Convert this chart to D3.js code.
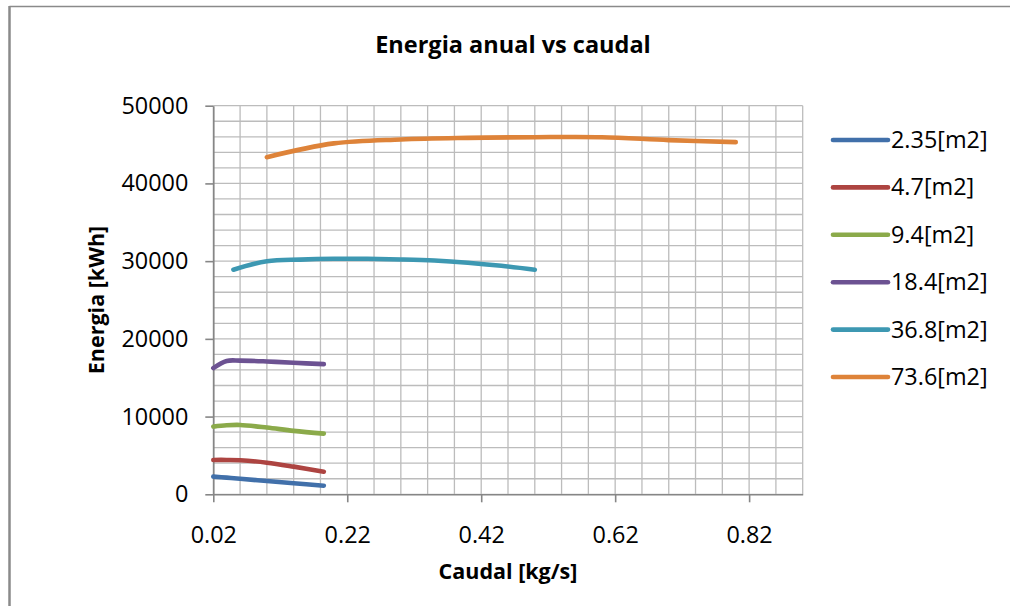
<!DOCTYPE html>
<html>
<head>
<meta charset="utf-8">
<script src="https://cdn.jsdelivr.net/npm/d3@7"></script>
<style>
  html, body { margin: 0; padding: 0; background: #ffffff; }
  svg { display: block; }
  text { font-family: "Open Sans", "Noto Sans", sans-serif; fill: #000; }
</style>
</head>
<body>
<svg id="chart" width="1010" height="606"></svg>
<script>
// Series names and colours
const seriesNames = ["2.35[m2]", "4.7[m2]", "9.4[m2]", "18.4[m2]", "36.8[m2]", "73.6[m2]"];
const seriesColors = ["#4170AA", "#AD4441", "#8BAA4A", "#6C5292", "#3D98B2", "#DE8339"];

// Flow rates (kg/s) for the four smaller collector areas
const caudalSmall = [0.02, 0.04, 0.06, 0.10, 0.14, 0.185];
const energia235 = [2270, 2140, 2000, 1710, 1420, 1110];
const energia47  = [4420, 4420, 4380, 4070, 3560, 2910];
const energia94  = [8710, 8880, 8920, 8590, 8160, 7810];
const energia184 = [16240, 17150, 17200, 17090, 16920, 16750];

// 36.8 m2 collector
const caudal368  = [0.05, 0.10, 0.15, 0.20, 0.25, 0.30, 0.35, 0.40, 0.45, 0.50];
const energia368 = [28900, 29980, 30200, 30300, 30300, 30220, 30080, 29800, 29400, 28900];

// 73.6 m2 collector
const caudal736  = [0.10, 0.20, 0.30, 0.40, 0.50, 0.60, 0.70, 0.80];
const energia736 = [43380, 45150, 45660, 45860, 45950, 45950, 45570, 45310];

// Axis ticks
const xTickValues = [0.02, 0.22, 0.42, 0.62, 0.82];
const yTickValues = [0, 10000, 20000, 30000, 40000, 50000];
const xDomain = [0.02, 0.90];
const yDomain = [0, 50000];
const xMinorStep = 0.04;
const yMinorStep = 2000;

const seriesX = [caudalSmall, caudalSmall, caudalSmall, caudalSmall, caudal368, caudal736];
const seriesY = [energia235, energia47, energia94, energia184, energia368, energia736];

const series = seriesNames.map((name, i) => ({
  name,
  color: seriesColors[i],
  points: seriesX[i].map((x, j) => ({ x, y: seriesY[i][j] }))
}));

const svg = d3.select("#chart");
const plot = { left: 213.3, right: 802.7, top: 105.7, bottom: 494.3 };

const x = d3.scaleLinear().domain(xDomain).range([plot.left, plot.right]);
const y = d3.scaleLinear().domain(yDomain).range([plot.bottom, plot.top]);

// Chart frame (only the top and left edges fall inside the view)
svg.append("line").attr("x1", 9.5).attr("x2", 1010).attr("y1", 6.5).attr("y2", 6.5)
  .attr("stroke", "#8a8a8a").attr("stroke-width", 1.3);
svg.append("line").attr("x1", 9.5).attr("x2", 9.5).attr("y1", 6).attr("y2", 606)
  .attr("stroke", "#8a8a8a").attr("stroke-width", 2.5);

// Grid
const xGrid = d3.range(0, Math.round((xDomain[1] - xDomain[0]) / xMinorStep) + 1)
  .map(i => xDomain[0] + i * xMinorStep);
const yGrid = d3.range(0, Math.round((yDomain[1] - yDomain[0]) / yMinorStep) + 1)
  .map(i => yDomain[0] + i * yMinorStep);

const grid = svg.append("g").attr("stroke", "#bcbcbc").attr("stroke-width", 1.3);
grid.selectAll("line.h").data(yGrid).join("line").attr("class", "h")
  .attr("x1", plot.left).attr("x2", plot.right)
  .attr("y1", d => y(d)).attr("y2", d => y(d));
grid.selectAll("line.v").data(xGrid).join("line").attr("class", "v")
  .attr("y1", plot.top).attr("y2", plot.bottom)
  .attr("x1", d => x(d)).attr("x2", d => x(d));

// Axes
const xAxis = d3.axisBottom(x).tickValues(xTickValues).tickFormat(d3.format(".2f"))
  .tickSizeInner(8).tickSizeOuter(0).tickPadding(24);
const yAxis = d3.axisLeft(y).tickValues(yTickValues).tickFormat(d3.format("d"))
  .tickSizeInner(8).tickSizeOuter(0).tickPadding(17);

const gx = svg.append("g").attr("transform", `translate(0,${plot.bottom})`).call(xAxis);
const gy = svg.append("g").attr("transform", `translate(${plot.left},0)`).call(yAxis);
[gx, gy].forEach(g => {
  g.select(".domain").attr("stroke", "#868686").attr("stroke-width", 1.6);
  g.selectAll(".tick line").attr("stroke", "#868686").attr("stroke-width", 1.6);
  g.selectAll(".tick text").attr("font-family", "Open Sans").attr("font-size", 23.4).attr("fill", "#000");
});

// Series lines
const line = d3.line().x(d => x(d.x)).y(d => y(d.y)).curve(d3.curveCatmullRom.alpha(0.5));
svg.append("g").selectAll("path").data(series).join("path")
  .attr("d", d => line(d.points))
  .attr("fill", "none")
  .attr("stroke", d => d.color)
  .attr("stroke-width", 4.6)
  .attr("stroke-linecap", "round")
  .attr("stroke-linejoin", "round");

// Title
svg.append("text").attr("x", 513).attr("y", 53).attr("text-anchor", "middle")
  .attr("font-weight", "bold").attr("font-size", 23.5).text("Energia anual vs caudal");

// Axis titles
svg.append("text").attr("x", (plot.left + plot.right) / 2).attr("y", 579).attr("text-anchor", "middle")
  .attr("font-weight", "bold").attr("font-size", 21.5).text("Caudal [kg/s]");
svg.append("text").attr("transform", `translate(104,${(plot.top + plot.bottom) / 2}) rotate(-90)`)
  .attr("text-anchor", "middle")
  .attr("font-weight", "bold").attr("font-size", 21.5).text("Energia [kWh]");

// Legend
const legend = svg.append("g").attr("transform", "translate(833,140)");
const items = legend.selectAll("g").data(series).join("g")
  .attr("transform", (d, i) => `translate(0,${i * 47.4})`);
items.append("line").attr("x1", 0).attr("x2", 55).attr("y1", 0).attr("y2", 0)
  .attr("stroke", d => d.color).attr("stroke-width", 4.6).attr("stroke-linecap", "round");
items.append("text").attr("x", 58).attr("y", 8).attr("font-size", 23.4).text(d => d.name);
</script>
</body>
</html>
